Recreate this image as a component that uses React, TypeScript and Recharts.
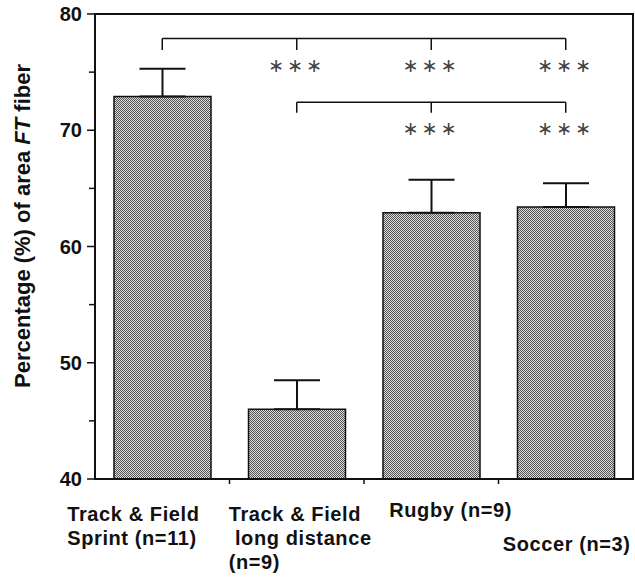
import React from "react";
import {
  BarChart,
  Bar,
  XAxis,
  YAxis,
  ErrorBar,
  ReferenceLine,
  ReferenceDot,
  ReferenceArea,
} from "recharts";

const categories = ["sprint", "long", "rugby", "soccer"];
const labelLines = [
  ["Track & Field", "Sprint (n=11)"],
  ["Track & Field", " long distance", "(n=9)"],
  ["Rugby (n=9)"],
  ["Soccer (n=3)"],
];
const means = [72.9, 46.0, 62.9, 63.4];
const sem = [2.4, 2.5, 2.85, 2.05];
const yTicks = [40, 45, 50, 55, 60, 65, 70, 75, 80];

// significance brackets: sprint vs all, long distance vs rugby/soccer
const bracket1 = { from: "sprint", to: "soccer", y: 77.9, drop: 76.9, marks: ["long", "rugby", "soccer"], starsY: 75.65 };
const bracket2 = { from: "long", to: "soccer", y: 72.4, drop: 71.5, marks: ["rugby", "soccer"], starsY: 70.2 };

const data = categories.map((c, i) => ({ cat: c, mean: means[i], err: [0, sem[i]] }));

// label placement per category (left edge relative to band centre, first baseline)
const labelPos = [
  { dx: -95, y: 42 },
  { dx: -68, y: 42 },
  { dx: -42, y: 38 },
  { dx: -63, y: 72 },
];

const font = "'Liberation Sans', Arial, sans-serif";

const YTick = (props: any) => {
  const { x, y, payload } = props;
  const major = payload.value % 10 === 0;
  return (
    <g>
      <line x1={x - (major ? 8 : 6)} x2={x} y1={y} y2={y} stroke="#111" strokeWidth={1.5} />
      {major && (
        <text x={x - 13} y={y} dy={7} textAnchor="end" fontFamily={font} fontWeight="bold" fontSize={20} fill="#111">
          {payload.value}
        </text>
      )}
    </g>
  );
};

const XTick = (props: any) => {
  const { x, y, index, width } = props;
  const half = (width || 538) / categories.length / 2;
  const pos = labelPos[index];
  return (
    <g>
      {index < categories.length - 1 && (
        <line x1={x + half} x2={x + half} y1={y} y2={y + 5} stroke="#111" strokeWidth={1.5} />
      )}
      <text fontFamily={font} fontWeight="bold" fontSize={20} fill="#111" letterSpacing={0.6}>
        {labelLines[index].map((t, k) => (
          <tspan key={k} x={x + pos.dx} y={y + pos.y + k * 24} style={{ whiteSpace: "pre" }}>
            {t}
          </tspan>
        ))}
      </text>
    </g>
  );
};

const Stars = (props: any) => (
  <text
    x={props.cx}
    y={props.cy}
    dy={7}
    textAnchor="middle"
    fontFamily="'DejaVu Sans', sans-serif"
    fontSize={19}
    fill="#444"
    letterSpacing={3}
  >
    {"∗∗∗"}
  </text>
);

const YLabel = () => (
  <text
    x={30}
    y={226}
    transform="rotate(-90 30 226)"
    textAnchor="middle"
    fontFamily={font}
    fontWeight="bold"
    fontSize={22}
    fill="#111"
  >
    Percentage (%) of area <tspan fontStyle="italic">FT</tspan> fiber
  </text>
);

function Bracket({ b }: { b: typeof bracket1 }) {
  return (
    <>
      <ReferenceLine
        segment={[{ x: b.from, y: b.y }, { x: b.to, y: b.y }]}
        stroke="#111"
        strokeWidth={1.5}
      />
      {[b.from, ...b.marks].map((m) => (
        <ReferenceLine
          key={"t" + m}
          segment={[{ x: m, y: b.y }, { x: m, y: b.drop }]}
          stroke="#111"
          strokeWidth={1.5}
        />
      ))}
    </>
  );
}

export default function App() {
  return (
    <div style={{ position: "absolute", left: 0, top: 0, background: "#fff" }}>
      <BarChart width={635} height={580} data={data} margin={{ top: 14, right: 2, left: 0, bottom: 0 }}>
        <defs>
          <pattern id="stipple" width={2} height={2} patternUnits="userSpaceOnUse">
            <rect width={2} height={2} fill="#dcdcdc" />
            <rect width={1} height={1} fill="#555" />
            <rect x={1} y={1} width={1} height={1} fill="#555" />
          </pattern>
        </defs>
        <XAxis
          dataKey="cat"
          height={101}
          axisLine={{ stroke: "#111", strokeWidth: 2 }}
          tickLine={false}
          tickSize={0}
          tickMargin={0}
          interval={0}
          tick={<XTick />}
        />
        <YAxis
          domain={[40, 80]}
          ticks={yTicks}
          width={95}
          axisLine={{ stroke: "#111", strokeWidth: 2 }}
          tickLine={false}
          tickSize={0}
          tickMargin={0}
          tick={<YTick />}
          allowDataOverflow
        />
        <ReferenceArea x1="sprint" x2="soccer" y1={40} y2={80} fill="none" stroke="#111" strokeWidth={2} />
        <Bar dataKey="mean" barSize={97} fill="url(#stipple)" stroke="#111" strokeWidth={1.5} isAnimationActive={false}>
          <ErrorBar dataKey="err" direction="y" width={23} stroke="#111" strokeWidth={2} />
        </Bar>
        <Bracket b={bracket1} />
        <Bracket b={bracket2} />
        {bracket1.marks.map((m) => (
          <ReferenceDot key={"s1" + m} x={m} y={bracket1.starsY} r={0} shape={<Stars />} />
        ))}
        {bracket2.marks.map((m) => (
          <ReferenceDot key={"s2" + m} x={m} y={bracket2.starsY} r={0} shape={<Stars />} />
        ))}
        <YLabel />
      </BarChart>
    </div>
  );
}
